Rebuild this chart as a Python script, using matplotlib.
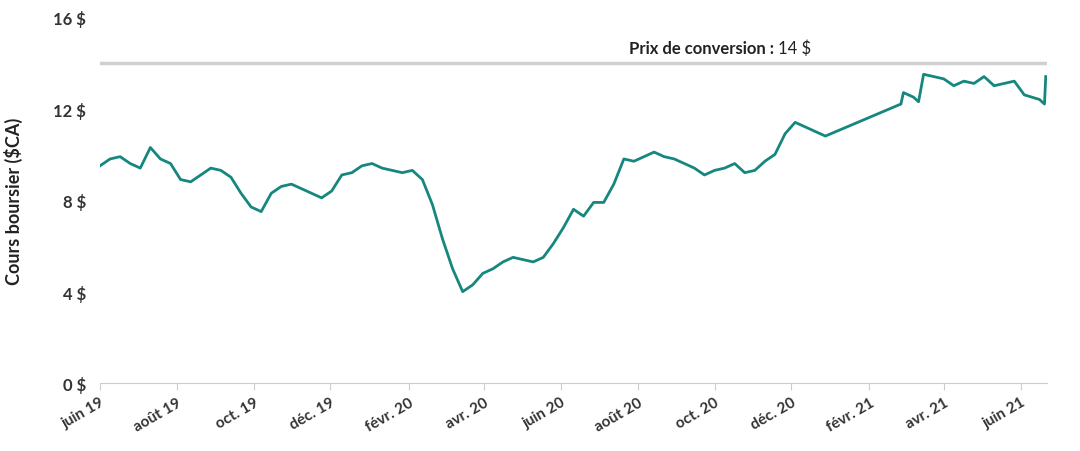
import matplotlib
matplotlib.use("Agg")
import matplotlib.pyplot as plt
import pandas as pd

plt.rcParams['font.family'] = ['Lato', 'DejaVu Sans']

seg1_values = [9.5,9.8,9.9,9.6,9.4,10.3,9.8,9.6,8.9,8.8,9.1,9.4,9.3,9.0,8.3,7.7,7.5,8.3,8.6,8.7,
               8.5,8.3,8.1,8.4,9.1,9.2,9.5,9.6,9.4,9.3,9.2,9.3,8.9,7.8,6.3,5.0,4.0,4.3,4.8,5.0,
               5.3,5.5,5.4,5.3,5.5,6.1,6.8,7.6,7.3,7.9,7.9,8.7,9.8,9.7,9.9,10.1,9.9,9.8,9.6,9.4,
               9.1,9.3,9.4,9.6,9.2,9.3,9.7,10.0,10.9,11.4,11.2,11.0,10.8]
seg1_dates = pd.date_range('2019-06-01', periods=len(seg1_values), freq='8D')
seg2_dates = pd.to_datetime(['2021-02-26','2021-02-28','2021-03-08','2021-03-12','2021-03-16',
    '2021-03-24','2021-04-01','2021-04-09','2021-04-17','2021-04-25','2021-05-03','2021-05-11',
    '2021-05-19','2021-05-27','2021-06-04','2021-06-16','2021-06-20','2021-06-21'])
seg2_values = [12.2,12.7,12.5,12.3,13.5,13.4,13.3,13.0,13.2,13.1,13.4,13.0,13.1,13.2,12.6,12.4,12.2,13.4]
dates = list(seg1_dates) + list(seg2_dates)
values = seg1_values + seg2_values

tick_dates = pd.date_range('2019-06-01', '2021-06-01', freq='2MS')
tick_labels = ['juin 19','août 19','oct. 19','déc. 19','févr. 20','avr. 20','juin 20',
               'août 20','oct. 20','déc. 20','févr. 21','avr. 21','juin 21']
conversion_price = 14

fig = plt.figure(figsize=(10.8, 4.52), dpi=100)
ax = fig.add_axes([100/1080, 0.150, 947/1080, 0.810])
ax.axhline(conversion_price, color='#d0d0d0', lw=2.5, zorder=1)
ax.plot(dates, values, color='#16877f', lw=2, zorder=2)
ax.set_xlim(pd.Timestamp('2019-06-01'), pd.Timestamp('2021-06-22'))
ax.set_ylim(0, 16)
ax.set_yticks([0, 4, 8, 12, 16])
ax.set_yticklabels([f'{v} $' for v in [0, 4, 8, 12, 16]], fontsize=12, fontweight='bold', color='#333333')
ax.set_xticks(tick_dates)
ax.set_xticklabels(tick_labels, rotation=30, ha='right', rotation_mode='anchor',
                   fontsize=11, fontweight='bold', color='#333333')
ax.tick_params(axis='y', length=0, pad=10)
ax.tick_params(axis='x', length=5, color='#cccccc')
for s in ['top', 'right', 'left']:
    ax.spines[s].set_visible(False)
ax.spines['bottom'].set_color('#cccccc')
ax.set_ylabel('Cours boursier ($CA)', fontsize=13, fontweight='bold', color='#222222', labelpad=22)
ax.text(pd.Timestamp('2020-11-17'), 14.3, 'Prix de conversion :', fontsize=12, fontweight='bold',
        ha='right', va='bottom', color='#222222')
ax.text(pd.Timestamp('2020-11-20'), 14.3, f'{conversion_price} $', fontsize=12,
        ha='left', va='bottom', color='#222222')
fig.savefig('out.png', dpi=100)
